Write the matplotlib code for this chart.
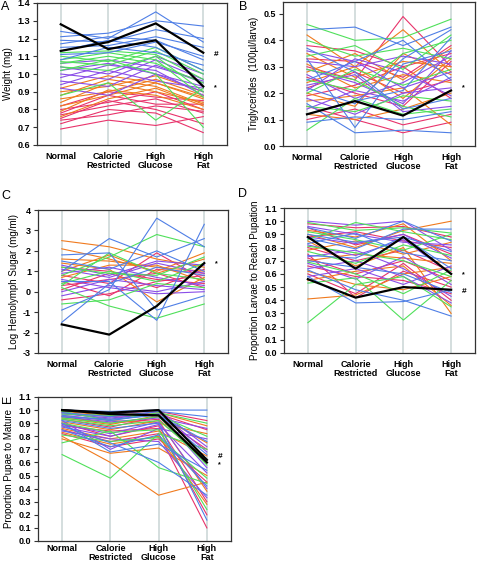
import matplotlib
matplotlib.use("Agg")
import matplotlib.pyplot as plt
import numpy as np

plt.rcParams['font.family'] = ['Liberation Sans', 'DejaVu Sans']

diets = ["Normal", "Calorie\nRestricted", "High\nGlucose", "High\nFat"]

# Panel A: weight (mg), one row per strain (Normal, CR, HG, HF)
weight = [
    [0.69, 0.74, 0.71, 0.76], [0.72, 0.80, 0.78, 0.67], [0.74, 0.77, 0.82, 0.79],
    [0.75, 0.85, 0.80, 0.72], [0.77, 0.82, 0.86, 0.78], [0.78, 0.88, 0.83, 0.83],
    [0.80, 0.84, 0.90, 0.80], [0.82, 0.90, 0.87, 0.85],
    [0.76, 0.86, 0.92, 0.82], [0.79, 0.91, 0.88, 0.80], [0.82, 0.88, 0.95, 0.86],
    [0.84, 0.95, 0.90, 0.84], [0.86, 0.90, 0.97, 0.88], [0.88, 0.97, 0.93, 0.83],
    [0.90, 0.93, 0.99, 0.90], [0.92, 0.99, 0.95, 0.87],
    [0.92, 0.88, 1.00, 0.90], [0.94, 1.02, 0.96, 0.92], [0.96, 0.93, 1.05, 0.95],
    [0.98, 1.05, 1.02, 0.88], [1.00, 0.97, 1.08, 0.97], [1.02, 1.06, 1.00, 0.93],
    [1.04, 1.00, 1.10, 1.00], [1.06, 1.08, 1.04, 0.96],
    [0.88, 0.95, 0.74, 0.92], [1.02, 1.08, 1.00, 0.70], [1.04, 1.02, 1.10, 0.90],
    [1.06, 1.10, 1.06, 0.95], [1.07, 1.05, 1.13, 1.00], [1.08, 1.12, 1.08, 0.87],
    [1.10, 1.07, 1.15, 1.02], [1.12, 1.13, 1.11, 0.97],
    [1.08, 1.15, 1.12, 1.05], [1.11, 1.12, 1.18, 1.10], [1.13, 1.19, 1.15, 1.02],
    [1.15, 1.16, 1.21, 1.15], [1.17, 1.21, 1.19, 1.08], [1.19, 1.18, 1.25, 1.20],
    [1.21, 1.23, 1.30, 1.27], [1.24, 1.20, 1.35, 1.18],
]
weight_ref = [[1.28, 1.14, 1.19, 0.93], [1.13, 1.18, 1.285, 1.12]]

# Panel B: triglycerides
trig = [
    [0.30, 0.25, 0.49, 0.30], [0.38, 0.36, 0.30, 0.35], [0.15, 0.10, 0.05, 0.09],
    [0.22, 0.28, 0.20, 0.25], [0.33, 0.32, 0.26, 0.38], [0.10, 0.14, 0.08, 0.12],
    [0.26, 0.20, 0.15, 0.32], [0.19, 0.23, 0.30, 0.18],
    [0.42, 0.30, 0.44, 0.28], [0.28, 0.35, 0.25, 0.37], [0.17, 0.19, 0.22, 0.08],
    [0.35, 0.26, 0.32, 0.30], [0.24, 0.30, 0.18, 0.33], [0.12, 0.10, 0.14, 0.20],
    [0.31, 0.22, 0.27, 0.24], [0.20, 0.15, 0.35, 0.27],
    [0.27, 0.18, 0.24, 0.34], [0.36, 0.32, 0.22, 0.28], [0.14, 0.21, 0.17, 0.26],
    [0.23, 0.27, 0.13, 0.15], [0.32, 0.30, 0.34, 0.31], [0.18, 0.12, 0.20, 0.22],
    [0.29, 0.24, 0.16, 0.36], [0.21, 0.33, 0.28, 0.19],
    [0.46, 0.40, 0.41, 0.48], [0.06, 0.18, 0.12, 0.14], [0.34, 0.38, 0.29, 0.42],
    [0.25, 0.21, 0.35, 0.40], [0.29, 0.25, 0.15, 0.11], [0.15, 0.13, 0.19, 0.17],
    [0.40, 0.34, 0.37, 0.33], [0.20, 0.29, 0.23, 0.29],
    [0.44, 0.45, 0.38, 0.45], [0.33, 0.07, 0.31, 0.36], [0.16, 0.05, 0.06, 0.05],
    [0.25, 0.32, 0.40, 0.25], [0.12, 0.17, 0.21, 0.41], [0.37, 0.28, 0.14, 0.18],
    [0.22, 0.16, 0.33, 0.44], [0.09, 0.11, 0.10, 0.13],
]
trig_ref = [[0.12, 0.17, 0.115, 0.21]]

# Panel C: log hemolymph sugar
sugar = [
    [0.3, 0.6, 0.9, 0.2], [-0.4, -0.1, 0.5, 0.8], [0.8, 0.4, 1.9, 0.6],
    [0.1, 0.9, 0.2, 1.1], [1.2, 1.0, 0.6, 0.4], [0.5, -0.2, 1.1, 0.9],
    [2.5, 2.2, 1.6, 1.2], [1.6, 1.5, 1.2, 1.0], [1.0, 1.8, 0.9, 1.6],
    [1.4, 1.1, -0.5, 0.7], [0.7, 1.3, 1.3, 0.5], [2.1, 1.6, 1.0, 1.9],
    [0.0, 0.6, 0.3, 0.1], [1.3, 0.8, 1.5, 1.3], [0.6, 0.2, -0.1, 0.0],
    [0.9, 1.2, 0.7, 0.3], [-0.2, 0.3, 0.0, 0.5], [1.1, 0.7, 1.4, 0.9],
    [0.4, 1.0, 0.5, 1.4], [0.2, -0.7, -1.3, -0.6], [0.8, 1.7, 2.8, 2.2],
    [1.2, 0.9, 0.8, 1.7], [0.3, 1.9, 0.9, 0.6], [-0.6, -0.4, 0.4, 0.2],
    [1.8, 1.9, -0.9, -0.2], [1.0, 2.6, 1.7, 2.6], [-0.9, 0.1, 3.6, 2.2],
    [0.5, 0.5, -1.4, 3.3], [1.5, 1.1, 2.0, 1.0], [-1.5, 0.4, 1.2, 0.8],
]
sugar_ref = [[-1.6, -2.1, -0.7, 1.4]]

# Panel D: proportion larvae reaching pupation
pupation = [
    [0.95, 0.82, 0.90, 0.75], [0.72, 0.60, 0.70, 0.55], [0.60, 0.45, 0.68, 0.40],
    [0.88, 0.92, 0.85, 0.80], [0.80, 0.70, 0.78, 0.62], [0.66, 0.58, 0.55, 0.45],
    [0.98, 0.95, 0.96, 0.88], [0.75, 0.42, 0.62, 0.50],
    [0.41, 0.44, 0.60, 0.65], [0.90, 0.80, 0.93, 1.00], [0.70, 0.75, 0.72, 0.68],
    [0.85, 0.66, 0.80, 0.30], [0.62, 0.52, 0.48, 0.58], [0.93, 0.88, 0.98, 0.70],
    [0.78, 0.85, 0.75, 0.84], [0.55, 0.62, 0.66, 0.36],
    [0.82, 0.74, 0.86, 0.60], [0.68, 0.56, 0.73, 0.52], [1.00, 0.97, 1.00, 0.78],
    [0.73, 0.78, 0.64, 0.43], [0.88, 0.83, 0.90, 0.72], [0.58, 0.64, 0.52, 0.66],
    [0.96, 0.90, 0.84, 0.82], [0.64, 0.70, 0.58, 0.38],
    [0.53, 0.57, 0.25, 0.55], [0.86, 0.99, 0.92, 0.86], [0.77, 0.68, 0.82, 0.74],
    [0.69, 0.60, 0.45, 0.63], [0.92, 0.86, 0.78, 0.90], [0.81, 0.76, 0.70, 0.58],
    [0.99, 0.93, 0.95, 0.91], [0.23, 0.52, 0.58, 0.35],
    [0.58, 0.38, 0.39, 0.48], [0.87, 0.79, 0.94, 0.94], [0.74, 0.72, 0.88, 0.64],
    [0.63, 0.48, 0.40, 0.28], [0.95, 0.87, 1.00, 0.85], [0.83, 0.91, 0.76, 0.70],
    [0.70, 0.65, 0.60, 0.46], [0.90, 0.84, 0.88, 0.77],
]
pupation_ref = [[0.88, 0.64, 0.88, 0.60], [0.56, 0.42, 0.50, 0.48]]

# Panel E: proportion pupae to mature
mature = [
    [0.98, 0.95, 0.97, 0.85], [0.90, 0.80, 0.88, 0.30], [0.85, 0.76, 0.82, 0.10],
    [0.95, 0.90, 0.93, 0.60], [0.82, 0.72, 0.78, 0.45], [1.00, 0.98, 0.99, 0.92],
    [0.88, 0.84, 0.86, 0.20], [0.93, 0.87, 0.95, 0.70],
    [0.80, 0.60, 0.35, 0.45], [0.96, 0.92, 0.90, 0.82], [0.78, 0.67, 0.71, 0.50],
    [0.91, 0.85, 0.92, 0.38], [0.86, 0.78, 0.84, 0.65], [0.99, 0.96, 0.98, 0.88],
    [0.83, 0.74, 0.80, 0.28], [0.94, 0.89, 0.96, 0.75],
    [0.97, 0.94, 0.97, 0.56], [0.89, 0.82, 0.91, 0.40], [0.92, 0.70, 0.86, 0.78],
    [0.98, 0.93, 0.99, 0.68], [0.84, 0.78, 0.76, 0.33], [0.95, 0.91, 0.94, 0.86],
    [0.87, 0.80, 0.89, 0.52], [1.00, 0.97, 1.00, 0.72],
    [0.75, 0.84, 0.56, 0.44], [0.93, 0.88, 0.92, 0.62], [0.90, 0.83, 0.85, 0.24],
    [0.97, 0.96, 0.96, 0.80], [0.81, 0.76, 0.79, 0.48], [0.99, 0.92, 0.98, 0.90],
    [0.66, 0.48, 0.82, 0.70], [0.94, 0.90, 0.95, 0.58],
    [0.88, 0.75, 0.60, 0.35], [1.00, 0.99, 1.00, 1.00], [0.92, 0.86, 0.90, 0.16],
    [0.96, 0.92, 0.97, 0.66], [0.85, 0.72, 0.81, 0.42], [0.98, 0.95, 0.99, 0.95],
    [0.90, 0.68, 0.74, 0.54], [0.95, 0.93, 0.96, 0.76],
]
mature_ref = [[1.00, 0.98, 1.00, 0.62], [1.00, 0.97, 0.96, 0.60]]

palette = ['#e8336b', '#f07a1e', '#8a4de8', '#4fe05a', '#4f7fe6']

W, H = 478, 567
fig = plt.figure(figsize=(W / 100, H / 100), dpi=100)


def make_ax(l, r, t, b):
    return fig.add_axes([l / W, 1 - b / H, (r - l) / W, (b - t) / H])


def panel(ax, lines, refs, ylim, yticks, yfmt, ylabel, marks, xpad=5):
    x = np.arange(4)
    for xi in x:
        ax.axvline(xi, color='#c9d5d5', lw=1.1, zorder=0)
    n = len(lines)
    for i, row in enumerate(lines):
        c = palette[min(i * len(palette) // n, len(palette) - 1)]
        ax.plot(x, row, color=c, lw=0.8, zorder=2)
    for row in refs:
        ax.plot(x, row, color='black', lw=1.6, zorder=5)
    for sym, yv in marks:
        ax.text(3.22, yv, sym, fontsize=6 if sym == '#' else 5, ha='left',
                va='center', fontweight='bold')
    ax.set_xlim(-0.5, 3.5)
    ax.set_ylim(*ylim)
    ax.set_yticks(yticks)
    ax.set_yticklabels([yfmt.format(v) for v in yticks])
    ax.set_xticks(x)
    ax.set_xticklabels(diets, fontweight='bold', fontsize=6.5, linespacing=1.0)
    ax.tick_params(axis='x', length=0, pad=xpad)
    ax.tick_params(axis='y', length=3, width=0.8, pad=2, labelsize=6.5,
                   color='#333333')
    for lab in ax.get_yticklabels():
        lab.set_fontweight('bold')
    for s in ax.spines.values():
        s.set_color('#333333')
        s.set_linewidth(0.9)
    ax.set_ylabel(ylabel, fontsize=7, labelpad=3)


axA = make_ax(37, 227, 3, 145)
panel(axA, weight, weight_ref, (0.6, 1.4), np.arange(0.6, 1.41, 0.1), "{:.1f}",
      "Weight (mg)", [('#', 1.11), ('*', 0.92)])

axB = make_ax(283, 475, 2, 146)
panel(axB, trig, trig_ref, (0, 0.545), np.arange(0, 0.51, 0.1), "{:.1f}",
      "Triglycerides  (100\u00b5l/larva)", [('*', 0.22)])

axC = make_ax(38, 228, 210, 353)
panel(axC, sugar, sugar_ref, (-3, 4), np.arange(-3, 5, 1), "{:.0f}",
      "Log Hemolymph Sugar (mg/ml)", [('*', 1.35)])

axD = make_ax(284, 475, 208, 353)
panel(axD, pupation, pupation_ref, (0, 1.1), np.arange(0, 1.11, 0.1), "{:.1f}",
      "Proportion Larvae to Reach Pupation", [('*', 0.595), ('#', 0.47)])

axE = make_ax(38, 231, 397, 541)
panel(axE, mature, mature_ref, (0, 1.1), np.arange(0, 1.11, 0.1), "{:.1f}",
      "Proportion Pupae to Mature", [('#', 0.645), ('*', 0.585)], xpad=2)

fig.text(1 / W, 1 - 7 / H, "A", fontsize=9, va='center')
fig.text(239 / W, 1 - 7 / H, "B", fontsize=9, va='center')
fig.text(1 / W, 1 - 196 / H, "C", fontsize=9, va='center')
fig.text(238 / W, 1 - 194 / H, "D", fontsize=9, va='center')
fig.text(2 / W, 1 - 399 / H, "E", fontsize=9, va='center', rotation=90)

fig.savefig("out.png", dpi=100)
